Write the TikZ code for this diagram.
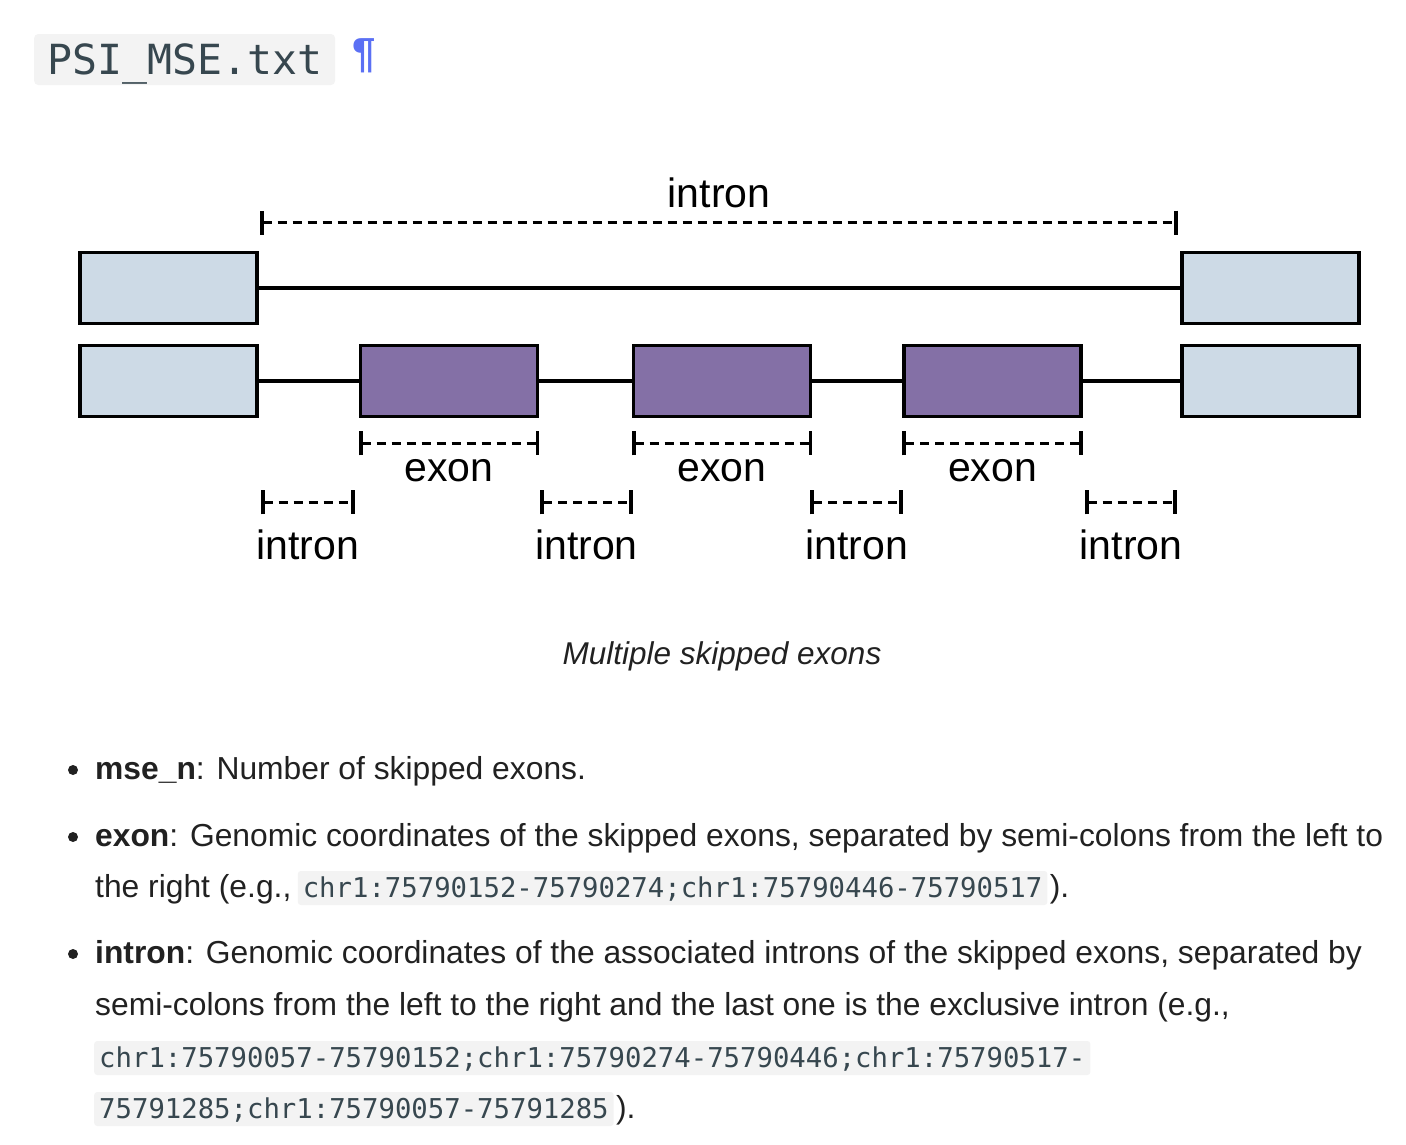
\documentclass[tikz,border=0pt]{standalone}
\usepackage{fontspec}
\setmainfont{Liberation Sans}
\setmonofont{DejaVu Sans Mono}
\usepackage{xcolor}
\usetikzlibrary{arrows.meta}

\definecolor{utrblue}{HTML}{CDDAE6}
\definecolor{exonpurple}{HTML}{8470A6}
\definecolor{codebg}{HTML}{F3F3F3}
\definecolor{codefg}{HTML}{37474F}
\definecolor{bodyfg}{HTML}{212121}
\definecolor{pilcrowblue}{HTML}{5B70F4}

\tikzset{
  utr/.style={draw=black, line width=3.6pt, fill=utrblue, inner sep=0pt,
    minimum width=177pt, minimum height=71pt},
  exonbox/.style={utr, fill=exonpurple},
  junction/.style={line width=3.2pt},
  span/.style={line width=3pt, dash pattern=on 9pt off 6pt,
    {Bar[width=24pt,line width=3.8pt]}-{Bar[width=24pt,line width=3.8pt]}},
  lbl/.style={inner sep=0pt, anchor=base, font=\fontsize{41}{41}\selectfont},
  body/.style={inner sep=0pt, anchor=base west, text=bodyfg,
    font=\fontsize{31.8}{31.8}\selectfont},
  code/.style={inner sep=0pt, anchor=base west, text=codefg, fill=codebg,
    rounded corners=3pt, text depth=8pt, text height=26pt,
    inner xsep=5pt, font=\ttfamily\fontsize{27.3}{27.3}\selectfont},
  dot/.style={circle, fill=bodyfg, inner sep=0pt, minimum size=10pt}
}

\begin{document}
\begin{tikzpicture}[x=1pt,y=1pt]
\useasboundingbox (0,0) rectangle (1406,-1144);

% heading
\node[code, rounded corners=4pt, inner xsep=13pt, text height=40pt, text depth=11pt,
  font=\ttfamily\fontsize{41.5}{41.5}\selectfont] (title) at (34,-74) {PSI\_MSE.txt};
\node[inner sep=0pt, anchor=base west, text=pilcrowblue,
  font=\bfseries\fontsize{42}{42}\selectfont] (para) at (352,-67) {¶};

% exclusion path
\node[utr] (L1) at (168.5,-288) {};
\node[utr] (R1) at (1270.5,-288) {};
\draw[junction] (L1) -- (R1);

% inclusion path
\node[utr] (L2) at (168.5,-381) {};
\node[exonbox] (E1) at (449,-381) {};
\node[exonbox] (E2) at (722,-381) {};
\node[exonbox] (E3) at (992.5,-381) {};
\node[utr] (R2) at (1270.5,-381) {};
\draw[junction] (L2) -- (E1) -- (E2) -- (E3) -- (R2);

% spans
\draw[span] ([xshift=1pt,yshift=28pt]L1.north east) -- node[lbl, yshift=15pt] (big) {intron} ([xshift=-2pt,yshift=28pt]R1.north west);
\foreach \e in {E1,E2,E3}
  \draw[span] ([yshift=-25pt]\e.south west) -- node[lbl, yshift=-38pt] (lbl\e) {exon} ([yshift=-25pt]\e.south east);
\draw[span] ([xshift=2pt,yshift=-84pt]L2.south east) -- node[lbl, yshift=-57pt] (in1) {intron} ([xshift=-4pt,yshift=-84pt]E1.south west);
\draw[span] ([xshift=1pt,yshift=-84pt]E1.south east) -- node[lbl, yshift=-57pt] (in2) {intron} ([xshift=1pt,yshift=-84pt]E2.south west);
\draw[span] ([xshift=-2pt,yshift=-84pt]E2.south east) -- node[lbl, yshift=-57pt] (in3) {intron} ([xshift=1pt,yshift=-84pt]E3.south west);
\draw[span] ([xshift=2pt,yshift=-84pt]E3.south east) -- node[lbl, yshift=-57pt] (in4) {intron} ([xshift=-3pt,yshift=-84pt]R2.south west);

% caption
\node[inner sep=0pt, anchor=base, text=bodyfg, font=\itshape\fontsize{31.5}{31.5}\selectfont]
  (caption) at (722,-664) {Multiple skipped exons};

% field list
\node[dot] (b1) at (73,-770) {};
\node[dot] (b2) at (73,-837) {};
\node[dot] (b3) at (73,-954) {};

\node[body] (t1) at (95,-779) {\textbf{mse\_n}: Number of skipped exons.};
\node[body] (t2) at (95,-846) {\textbf{exon}: Genomic coordinates of the skipped exons, separated by semi-colons from the left to};
\node[body] (t2b) at (95,-897) {the right (e.g.,};
\node[code] (c2) at ([xshift=6pt]t2b.base east) {chr1:75790152-75790274;chr1:75790446-75790517};
\node[body] (p2) at ([xshift=2pt]c2.base east) {).};
\node[body] (t3) at (95,-963) {\textbf{intron}: Genomic coordinates of the associated introns of the skipped exons, separated by};
\node[body] (t3b) at (95,-1015) {semi-colons from the left to the right and the last one is the exclusive intron (e.g.,};
\node[code] (c3) at (94,-1067) {chr1:75790057-75790152;chr1:75790274-75790446;chr1:75790517-};
\node[code] (c3b) at (94,-1118) {75791285;chr1:75790057-75791285};
\node[body] (p3) at ([xshift=2pt]c3b.base east) {).};
\end{tikzpicture}
\end{document}
